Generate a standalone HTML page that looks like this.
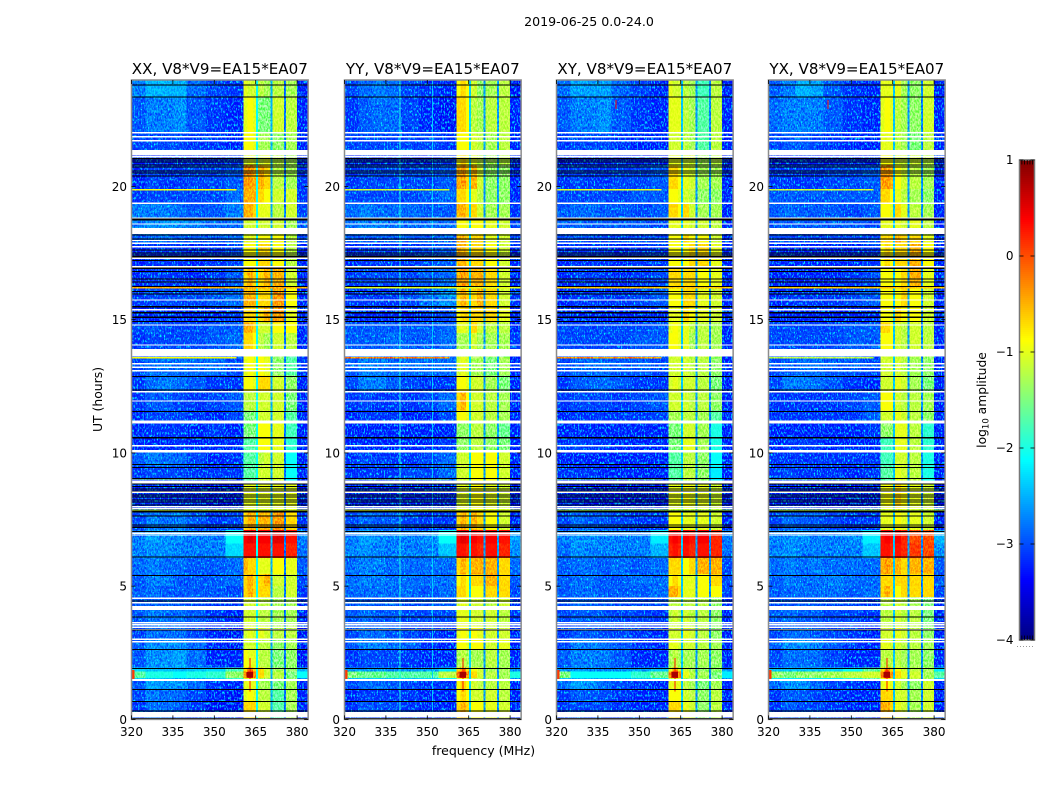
<!DOCTYPE html>
<html lang="en">
<head>
<meta charset="utf-8">
<title>2019-06-25 0.0-24.0 amplitude spectrograms</title>
<style>
html,body{margin:0;padding:0;background:#fff;}
svg{display:block;font-family:"DejaVu Sans","Liberation Sans",sans-serif;fill:#000;}
</style>
</head>
<body>
<svg id="figure" xmlns="http://www.w3.org/2000/svg" width="1050" height="800" viewBox="0 0 1050 800">
<defs>
<!-- Visual grain only: the values come from the arrays in the script below. -->
<filter id="speckle" x="0" y="0" width="100%" height="100%" color-interpolation-filters="sRGB">
<feTurbulence type="fractalNoise" baseFrequency="0.7 0.37" numOctaves="2" seed="7"/>
<feColorMatrix type="matrix" values="3 0 0 0 -1 3 0 0 0 -1 3 0 0 0 -1 0 0 0 0 1"/>
</filter>
<filter id="sparkle" x="0" y="0" width="100%" height="100%" color-interpolation-filters="sRGB">
<feTurbulence type="fractalNoise" baseFrequency="0.7 0.37" numOctaves="2" seed="23"/>
<feColorMatrix type="matrix" values="0 0 0 0 0 3 0 0 0 -1.4 0 0 0 0 0 0 0 0 0 1"/>
</filter>
</defs>
<rect x="0" y="0" width="1050" height="800" fill="#fff"/>
</svg>
<script>
const panelTitles = ["XX, V8*V9=EA15*EA07","YY, V8*V9=EA15*EA07","XY, V8*V9=EA15*EA07","YX, V8*V9=EA15*EA07"];
const panelKeys = ["xx","yy","xy","yx"];
const xTicks = [320,335,350,365,380];
const yTicks = [0,5,10,15,20];
const colorTicks = [1,0,-1,-2,-3,-4];
const colorTickLabels = ["1","0","\u22121","\u22122","\u22123","\u22124"];
const colorMinorFractions = [0.1,0.2,0.3,0.4,0.5];

// MHz
const freqEdges = [320,325,330,335,340,347,354,360.5,362,364,365.2];
const upperFreqStart = [365.7,368,371,375.8,380];
const upperFreqEnd = [368,370.4,375.2,380,384];
const gapStart = [365.1,370.3,375.2];
const gapEnd = [365.9,371.1,376];
// UT hours, top to bottom
const timeEdges = [24,23.35,22,21.2,20.8,19.9,19.4,18.8,18.2,17.9,16.95,16.2,15.5,14.9,14.5,13.9,13.6,12.9,12.3,11.6,11.2,10.6,10.05,9.5,8.9,7.8,7.1,6.6,6.05,5.45,5,4.6,4.2,3.5,3,2.6,1.95,1.8,1.55,1.44,1.13,0.7,0];

// log10 amplitude in tenths
const levelsXX = [
[-28,-25,-25,-25,-29,-31,-32,-10,-11,-11,-12,-13,-12,-13,-33],
[-30,-28,-28,-27,-30,-32,-33,-10,-9,-10,-15,-15,-11,-12,-33],
[-31,-31,-31,-31,-32,-32,-33,-9,-9,-10,-13,-13,-14,-13,-33],
[-33,-33,-33,-33,-33,-33,-32,-11,-10,-11,-11,-10,-12,-13,-33],
[-33,-31,-32,-32,-31,-31,-30,-4,-4,-5,-5,-7,-12,-13,-32],
[-32,-31,-31,-31,-31,-31,-29,-5,-5,-5,-7,-9,-11,-11,-32],
[-28,-28,-28,-29,-30,-30,-28,-5,-5,-7,-10,-10,-12,-11,-31],
[-28,-27,-27,-27,-28,-29,-29,-11,-11,-11,-11,-11,-11,-13,-30],
[-30,-29,-29,-30,-30,-30,-29,-10,-10,-10,-9,-9,-9,-12,-31],
[-33,-32,-32,-32,-33,-32,-31,-9,-9,-9,-7,-7,-9,-12,-33],
[-33,-32,-32,-32,-33,-32,-30,-7,-5,-7,-7,-5,-5,-11,-33],
[-32,-31,-31,-31,-31,-30,-29,-5,-5,-5,-7,-7,-4,-9,-33],
[-33,-33,-33,-33,-33,-33,-32,-7,-7,-7,-7,-5,-4,-10,-33],
[-31,-30,-31,-31,-31,-30,-30,-5,-5,-7,-11,-11,-9,-9,-33],
[-32,-31,-31,-31,-31,-30,-29,-7,-7,-9,-12,-13,-11,-12,-33],
[-31,-29,-29,-29,-29,-29,-31,-10,-9,-10,-9,-10,-14,-17,-32],
[-31,-29,-29,-29,-29,-29,-31,-10,-9,-10,-9,-10,-14,-17,-32],
[-32,-29,-28,-29,-30,-32,-32,-9,-9,-10,-7,-7,-11,-14,-33],
[-32,-30,-30,-31,-32,-31,-30,-12,-12,-12,-11,-11,-11,-15,-33],
[-33,-31,-31,-31,-32,-33,-31,-15,-15,-15,-11,-11,-11,-17,-33],
[-33,-32,-32,-32,-33,-32,-33,-15,-15,-15,-9,-9,-10,-18,-33],
[-33,-33,-33,-32,-33,-33,-33,-17,-17,-17,-9,-9,-10,-19,-33],
[-30,-28,-29,-29,-31,-33,-32,-17,-17,-17,-12,-11,-11,-21,-33],
[-32,-31,-31,-31,-32,-32,-32,-17,-17,-17,-11,-11,-11,-21,-33],
[-33,-32,-33,-33,-33,-34,-34,-10,-10,-10,-10,-10,-10,-10,-34],
[-31,-28,-29,-28,-30,-32,-31,-7,-5,-5,-5,-5,-4,-7,-32],
[-28,-26,-27,-27,-28,-28,-21,4,5,4,4,4,5,3,-28],
[-28,-27,-27,-28,-28,-28,-23,3,3,3,3,3,3,2,-29],
[-29,-28,-29,-29,-30,-30,-29,-5,-7,-7,-10,-10,-9,-10,-30],
[-30,-28,-28,-30,-30,-30,-29,-7,-5,-7,-7,-5,-11,-11,-31],
[-30,-29,-30,-30,-30,-30,-31,-7,-5,-7,-7,-7,-12,-11,-32],
[-30,-30,-30,-30,-31,-32,-32,-11,-11,-11,-12,-12,-13,-13,-33],
[-30,-28,-29,-29,-30,-32,-33,-11,-11,-11,-12,-12,-13,-13,-33],
[-31,-29,-29,-29,-31,-33,-34,-11,-10,-11,-10,-11,-12,-12,-34],
[-30,-27,-27,-27,-29,-33,-34,-11,-11,-11,-12,-12,-14,-13,-34],
[-30,-27,-27,-26,-29,-33,-33,-9,-10,-10,-12,-12,-15,-14,-34],
[-23,-24,-24,-25,-24,-23,-18,-7,-2,-7,-7,-11,-13,-14,-25],
[-17,-20,-20,-21,-20,-19,-14,-3,3,-3,-7,-11,-12,-15,-21],
[-24,-24,-24,-25,-25,-24,-19,-10,-10,-10,-12,-13,-13,-14,-27],
[-30,-26,-27,-27,-29,-32,-33,-10,-10,-10,-13,-13,-15,-13,-33],
[-31,-28,-29,-29,-31,-33,-34,-10,-9,-10,-12,-12,-17,-13,-33],
[-32,-29,-29,-30,-32,-34,-34,-7,-7,-7,-11,-11,-17,-13,-33]];
const levelsYY = [
[-31,-29,-28,-29,-31,-32,-33,-9,-7,-9,-11,-14,-13,-12,-34],
[-32,-30,-29,-29,-31,-33,-34,-7,-7,-9,-12,-13,-12,-12,-33],
[-31,-31,-31,-31,-31,-31,-32,-9,-9,-9,-11,-12,-13,-12,-33],
[-33,-33,-33,-33,-33,-33,-32,-9,-7,-9,-10,-12,-13,-12,-33],
[-32,-31,-31,-31,-31,-31,-30,-5,-4,-7,-5,-11,-14,-14,-33],
[-31,-31,-31,-31,-31,-30,-29,-7,-7,-9,-10,-12,-14,-14,-33],
[-29,-28,-29,-29,-29,-30,-30,-5,-5,-7,-7,-11,-13,-13,-32],
[-29,-28,-28,-29,-29,-29,-29,-9,-9,-10,-9,-9,-10,-11,-31],
[-30,-30,-30,-30,-30,-30,-29,-5,-5,-7,-7,-7,-10,-11,-31],
[-33,-32,-32,-32,-32,-31,-30,-5,-5,-7,-7,-7,-9,-11,-33],
[-32,-31,-31,-31,-31,-30,-29,-5,-4,-5,-5,-5,-7,-11,-33],
[-32,-32,-32,-32,-31,-29,-27,-7,-5,-7,-7,-5,-7,-11,-32],
[-33,-33,-33,-33,-33,-32,-31,-9,-7,-7,-7,-7,-7,-10,-33],
[-30,-30,-30,-30,-30,-30,-29,-10,-10,-11,-7,-11,-12,-12,-33],
[-30,-30,-30,-29,-30,-30,-29,-13,-13,-13,-11,-13,-13,-13,-32],
[-30,-29,-29,-29,-29,-29,-31,-12,-12,-12,-13,-13,-13,-15,-32],
[-30,-28,-28,-29,-29,-29,-29,-11,-10,-11,-13,-13,-15,-13,-33],
[-31,-28,-28,-30,-31,-32,-32,-9,-9,-10,-11,-11,-13,-15,-33],
[-32,-31,-32,-32,-32,-31,-29,-7,-5,-9,-11,-11,-12,-13,-33],
[-33,-32,-32,-32,-33,-33,-31,-9,-9,-10,-11,-11,-12,-13,-33],
[-33,-33,-33,-33,-33,-33,-33,-14,-14,-14,-12,-12,-14,-16,-33],
[-33,-33,-33,-33,-33,-33,-32,-14,-14,-14,-12,-12,-14,-15,-33],
[-32,-31,-32,-32,-32,-31,-29,-11,-11,-11,-9,-9,-9,-11,-33],
[-32,-32,-32,-32,-31,-31,-29,-11,-11,-11,-9,-9,-9,-11,-33],
[-33,-33,-33,-33,-33,-33,-33,-11,-10,-11,-9,-9,-10,-11,-34],
[-31,-29,-30,-30,-31,-32,-32,-7,-5,-7,-5,-7,-9,-11,-33],
[-28,-26,-27,-28,-28,-27,-21,4,5,4,4,3,4,3,-26],
[-28,-27,-28,-28,-28,-28,-24,3,3,2,3,2,3,2,-27],
[-29,-28,-28,-29,-29,-29,-29,-7,-5,-7,-5,-5,-5,-7,-29],
[-29,-28,-28,-29,-29,-29,-29,-9,-7,-9,-7,-7,-5,-7,-30],
[-29,-29,-29,-29,-29,-30,-29,-7,-7,-9,-9,-9,-7,-7,-31],
[-30,-29,-30,-30,-31,-30,-30,-11,-10,-11,-11,-11,-12,-11,-33],
[-30,-29,-30,-30,-31,-31,-31,-10,-10,-10,-11,-11,-11,-12,-32],
[-31,-29,-29,-30,-31,-32,-33,-10,-9,-10,-9,-10,-11,-11,-33],
[-30,-28,-28,-29,-30,-32,-33,-9,-9,-10,-9,-9,-11,-10,-33],
[-32,-31,-31,-31,-32,-33,-33,-13,-12,-13,-13,-13,-12,-13,-33],
[-26,-26,-26,-27,-27,-26,-22,-7,-3,-7,-9,-11,-13,-13,-27],
[-15,-16,-16,-17,-17,-17,-12,-2,4,-3,-7,-11,-12,-13,-20],
[-24,-24,-24,-24,-24,-23,-21,-11,-9,-11,-12,-12,-13,-13,-27],
[-31,-29,-29,-30,-31,-32,-32,-9,-7,-9,-11,-12,-12,-12,-33],
[-33,-32,-32,-32,-32,-33,-33,-9,-7,-9,-11,-11,-11,-12,-33],
[-32,-30,-31,-31,-32,-33,-33,-7,-5,-7,-9,-9,-10,-11,-33]];
const levelsXY = [
[-29,-26,-26,-26,-29,-31,-33,-10,-11,-11,-12,-13,-18,-12,-33],
[-30,-28,-28,-27,-30,-32,-33,-10,-10,-10,-12,-13,-17,-12,-33],
[-32,-31,-31,-31,-32,-33,-33,-11,-11,-11,-12,-13,-17,-12,-33],
[-34,-33,-33,-33,-33,-33,-33,-10,-10,-10,-11,-11,-13,-12,-33],
[-32,-31,-32,-32,-31,-31,-30,-7,-7,-9,-10,-11,-13,-13,-33],
[-31,-31,-31,-31,-31,-30,-30,-9,-9,-10,-11,-12,-14,-14,-33],
[-30,-29,-29,-30,-30,-31,-30,-7,-7,-9,-7,-11,-13,-13,-33],
[-30,-29,-30,-30,-30,-30,-31,-10,-10,-10,-10,-11,-11,-12,-33],
[-31,-30,-31,-31,-31,-31,-31,-9,-9,-9,-7,-9,-9,-11,-33],
[-33,-32,-32,-32,-33,-32,-32,-9,-9,-9,-9,-7,-7,-10,-33],
[-33,-32,-32,-32,-33,-32,-31,-7,-7,-7,-7,-7,-9,-10,-33],
[-33,-32,-32,-32,-32,-31,-30,-9,-9,-9,-7,-7,-10,-11,-33],
[-33,-33,-33,-33,-33,-33,-33,-10,-10,-10,-7,-9,-10,-11,-33],
[-31,-31,-31,-31,-31,-31,-30,-10,-9,-10,-10,-12,-12,-13,-33],
[-31,-31,-31,-31,-31,-30,-30,-9,-9,-10,-10,-13,-12,-13,-33],
[-31,-30,-30,-30,-30,-30,-32,-11,-11,-11,-11,-12,-11,-13,-33],
[-31,-30,-29,-29,-30,-30,-31,-11,-11,-11,-11,-12,-12,-14,-33],
[-32,-30,-30,-29,-30,-32,-32,-11,-10,-11,-11,-11,-12,-15,-33],
[-32,-31,-31,-31,-32,-31,-30,-11,-11,-11,-11,-12,-12,-14,-33],
[-33,-32,-32,-32,-32,-32,-31,-13,-13,-13,-12,-12,-13,-17,-33],
[-33,-33,-33,-33,-33,-33,-33,-15,-15,-15,-11,-11,-13,-20,-33],
[-32,-31,-32,-32,-33,-33,-33,-15,-15,-15,-10,-10,-13,-20,-33],
[-33,-33,-33,-33,-33,-33,-33,-17,-17,-17,-12,-12,-14,-21,-33],
[-32,-32,-32,-33,-33,-33,-33,-17,-17,-17,-12,-12,-14,-22,-33],
[-33,-33,-34,-34,-34,-34,-34,-10,-10,-10,-9,-10,-10,-11,-34],
[-31,-29,-30,-30,-31,-32,-32,-9,-9,-9,-10,-10,-10,-11,-33],
[-28,-27,-27,-28,-28,-28,-22,3,4,3,4,3,4,2,-28],
[-29,-27,-28,-28,-28,-28,-25,2,3,2,3,2,3,2,-29],
[-30,-29,-29,-30,-29,-30,-29,-7,-7,-7,-9,-7,-5,-5,-31],
[-30,-29,-29,-30,-30,-29,-29,-9,-7,-9,-10,-10,-9,-7,-31],
[-30,-29,-29,-30,-30,-30,-29,-5,-5,-7,-10,-10,-9,-9,-31],
[-31,-29,-30,-30,-31,-31,-31,-12,-12,-12,-12,-12,-12,-14,-33],
[-31,-30,-30,-30,-31,-31,-32,-12,-11,-12,-11,-12,-12,-14,-33],
[-32,-30,-30,-31,-31,-32,-33,-11,-11,-11,-10,-11,-12,-14,-33],
[-31,-28,-28,-29,-30,-32,-33,-10,-10,-11,-11,-11,-12,-13,-33],
[-30,-28,-28,-28,-30,-33,-33,-13,-12,-13,-13,-13,-13,-14,-33],
[-27,-27,-27,-28,-27,-26,-24,-10,-4,-10,-11,-13,-14,-14,-27],
[-15,-21,-21,-21,-21,-19,-16,-3,5,-3,-10,-12,-13,-15,-22],
[-24,-25,-25,-25,-25,-24,-22,-12,-10,-12,-13,-13,-14,-15,-27],
[-29,-26,-27,-29,-31,-32,-33,-10,-10,-10,-12,-13,-15,-13,-33],
[-32,-30,-30,-31,-32,-33,-33,-9,-9,-9,-11,-12,-14,-12,-33],
[-32,-31,-31,-31,-32,-33,-33,-7,-7,-7,-10,-11,-14,-12,-33]];
const levelsYX = [
[-30,-28,-25,-26,-30,-32,-33,-10,-10,-10,-10,-13,-14,-11,-33],
[-29,-28,-28,-28,-30,-32,-33,-10,-9,-10,-12,-13,-14,-11,-33],
[-31,-30,-30,-31,-32,-33,-33,-10,-10,-10,-12,-13,-15,-12,-33],
[-34,-33,-33,-33,-33,-33,-33,-9,-9,-9,-11,-11,-11,-12,-33],
[-32,-32,-32,-32,-31,-31,-30,-4,-4,-5,-9,-11,-12,-13,-33],
[-30,-30,-30,-30,-30,-30,-30,-7,-7,-9,-10,-12,-13,-14,-33],
[-30,-29,-30,-30,-30,-31,-30,-9,-9,-10,-7,-10,-12,-13,-33],
[-30,-30,-30,-30,-30,-30,-31,-10,-10,-10,-10,-11,-10,-12,-33],
[-31,-31,-31,-31,-31,-31,-31,-7,-7,-7,-5,-7,-7,-10,-33],
[-33,-33,-33,-33,-33,-33,-32,-9,-7,-9,-7,-7,-5,-9,-33],
[-33,-33,-33,-33,-33,-32,-31,-9,-9,-9,-9,-7,-5,-10,-33],
[-33,-32,-32,-32,-32,-31,-30,-9,-9,-9,-9,-7,-9,-11,-33],
[-33,-33,-33,-33,-33,-33,-33,-9,-9,-10,-7,-9,-9,-11,-33],
[-31,-31,-31,-31,-31,-30,-30,-7,-7,-9,-11,-12,-11,-12,-33],
[-31,-31,-31,-31,-31,-30,-30,-9,-9,-9,-11,-12,-11,-12,-33],
[-30,-30,-30,-30,-29,-29,-31,-11,-11,-11,-12,-12,-12,-13,-33],
[-31,-30,-29,-29,-30,-30,-31,-11,-11,-11,-11,-12,-13,-14,-33],
[-31,-28,-28,-29,-30,-32,-33,-11,-11,-11,-10,-11,-13,-15,-33],
[-32,-32,-32,-32,-32,-31,-30,-9,-9,-9,-11,-12,-12,-13,-33],
[-32,-32,-32,-32,-32,-32,-30,-11,-11,-11,-10,-11,-12,-14,-33],
[-33,-33,-33,-33,-33,-33,-32,-14,-14,-14,-10,-10,-12,-19,-33],
[-33,-32,-32,-32,-33,-33,-33,-18,-18,-18,-10,-10,-12,-19,-33],
[-32,-32,-32,-32,-32,-32,-32,-18,-18,-18,-11,-11,-12,-20,-33],
[-32,-31,-32,-32,-32,-33,-32,-17,-17,-17,-10,-11,-12,-20,-33],
[-33,-33,-34,-34,-34,-34,-34,-10,-9,-10,-7,-9,-10,-11,-34],
[-31,-29,-30,-30,-31,-32,-32,-10,-10,-10,-9,-10,-10,-11,-33],
[-28,-27,-27,-28,-28,-27,-22,3,4,3,4,2,0,0,-25],
[-28,-27,-28,-28,-28,-28,-24,3,3,2,3,2,1,0,-27],
[-29,-28,-29,-28,-29,-29,-29,-5,-4,-5,-5,-7,-5,-5,-30],
[-30,-28,-29,-29,-28,-29,-29,-7,-7,-7,-7,-7,-7,-7,-30],
[-30,-29,-29,-29,-29,-30,-29,-7,-5,-7,-9,-7,-7,-7,-31],
[-31,-30,-30,-30,-31,-31,-32,-12,-12,-12,-11,-12,-13,-15,-33],
[-30,-29,-30,-30,-31,-31,-32,-12,-12,-12,-11,-12,-12,-15,-33],
[-31,-29,-29,-30,-31,-32,-33,-11,-11,-11,-10,-11,-12,-14,-33],
[-30,-27,-27,-28,-30,-32,-33,-10,-10,-11,-11,-12,-12,-13,-33],
[-31,-29,-29,-29,-31,-33,-33,-12,-12,-12,-12,-13,-13,-14,-33],
[-24,-24,-24,-24,-23,-21,-17,-7,-3,-7,-9,-11,-12,-13,-22],
[-14,-15,-14,-14,-13,-12,-11,-3,5,-3,-7,-10,-11,-13,-17],
[-22,-22,-22,-22,-22,-20,-17,-9,-7,-10,-11,-12,-12,-13,-23],
[-29,-27,-27,-29,-31,-32,-33,-10,-9,-10,-11,-13,-14,-11,-33],
[-32,-30,-30,-31,-32,-33,-33,-7,-7,-7,-11,-11,-13,-11,-33],
[-32,-30,-31,-31,-32,-33,-33,-5,-5,-7,-10,-11,-13,-11,-33]];
const panelLevels = [levelsXX,levelsYY,levelsXY,levelsYX];

// dividing channels between sub-bands, tenths
const gapLevels = [[-21,-25,-28],[-23,-26,-26],[-24,-26,-27],[-24,-26,-27]];

// narrow interference rows
const spikeTimes = [19.87,16.2,14.93,13.57,9.02,7.85];
const spikeEndFreqs = [358,384,358,358,358,384];
const spikeLevels = [[-9,-5,-10,-9,-12,-11],[-11,-10,-17,-2,-12,-10],[-10,-6,-15,-3,-14,-13],[-11,-6,-16,-12,-13,-12]];

// narrow interference channels on YY
const yyLineFreqs = [340,351.7];
const yyLineLevels = [-20,-24];

// localised bursts
const spotFreqStart = [362.75,361.6,320,341.3];
const spotFreqEnd = [363.2,364,321,341.8];
const spotTimeStart = [1.05,1.58,1.5,22.9];
const spotTimeEnd = [2.3,1.78,1.85,23.25];
const spotLevels = [3,8,1,3];
const spotFirstPanel = [0,0,0,2];

// flagged integrations, UT hours
const whiteThin = [22.01,21.86,21.71,21.11,19.37,18.81,18.59,17.97,17.87,17.74,17.31,16.99,15.74,15.37,14.8,14.05,13.34,13.21,13.08,12.3,11.95,10.27,8.52,7.99,7.92,6.99,6.92,4.55,4.38,3.63,3.55,3.46,3.36,3.01,2.92];
const whiteBlockStart = [21.37,18.43,13.89,11.21,10.11,8.96,4.26,1.51,0.28];
const whiteBlockEnd = [21.16,18.22,13.61,11.11,10.01,8.86,4.11,1.44,0.08];
const blackThin = [23.8,23.35,21.05,20.99,20.92,20.81,20.73,20.58,20.51,20.39,18.77,18.74,18.18,18.02,17.62,17.5,17.43,17.36,17.22,16.93,16.8,16.53,16.42,16.24,16.05,15.97,15.5,15.47,15.26,15.09,14.93,12.86,12.36,11.55,10.57,9.57,9.45,9.04,8.84,8.74,8.65,8.57,8.42,8.34,8.24,8.15,8.05,7.81,7.78,7.64,7.3,7.21,7.05,6.09,5.4,4.45,3.84,3.36,2.63,1.91,1.13,0.67,0.32,0.03,0];

const SVGNS = "http://www.w3.org/2000/svg";
const figure = document.getElementById("figure");
const panelLeft = [131.5,344.5,556.5,768.5];
const plotTop = 80;
const pxPerMHz = 2.76;
const pxPerHour = 26.65;
const plotBottom = 719.4;
const freqMax = 384;
const bandStart = 360.5;
const bandEnd = 380;

function xScale(panel, mhz){ return panelLeft[panel] + (mhz - 320) * pxPerMHz; }
function yScale(ut){ return plotBottom - ut * pxPerHour; }
function colorScaleY(v){ return 640 - (v + 4) * 96; }
function clip01(v){ return Math.max(0, Math.min(1, v)); }
function jet(level){
  const t = clip01((level + 4) / 5);
  const r = clip01(Math.min(4*t - 1.5, -4*t + 4.5));
  const g = clip01(Math.min(4*t - 0.5, -4*t + 3.5));
  const b = clip01(Math.min(4*t + 0.5, -4*t + 2.5));
  return "rgb(" + Math.round(r*255) + "," + Math.round(g*255) + "," + Math.round(b*255) + ")";
}
function addRect(parent, name, x0, y0, x1, y1, fill){
  const el = document.createElementNS(SVGNS, "rect");
  
  
  el.setAttribute("x", x0.toFixed(2));
  el.setAttribute("y", y0.toFixed(2));
  el.setAttribute("width", (x1 - x0).toFixed(2));
  el.setAttribute("height", (y1 - y0).toFixed(2));
  el.setAttribute("fill", fill);
  parent.appendChild(el);
  return el;
}
function addLine(parent, name, x1, y1, x2, y2, stroke, width){
  const el = document.createElementNS(SVGNS, "line");
  
  
  el.setAttribute("x1", x1);
  el.setAttribute("y1", y1);
  el.setAttribute("x2", x2);
  el.setAttribute("y2", y2);
  el.setAttribute("stroke", stroke);
  el.setAttribute("stroke-width", width);
  parent.appendChild(el);
  return el;
}
function addText(parent, name, str, x, y, size, anchor){
  const el = document.createElementNS(SVGNS, "text");
  
  
  el.setAttribute("x", x);
  el.setAttribute("y", y);
  el.setAttribute("font-size", size);
  el.setAttribute("text-anchor", anchor);
  el.setAttribute("fill", "#000");
  el.textContent = str;
  parent.appendChild(el);
  return el;
}
function addGroup(parent, name){
  const el = document.createElementNS(SVGNS, "g");
  
  
  parent.appendChild(el);
  return el;
}

addText(figure, "figure-title", "2019-06-25 0.0-24.0", 589, 26, 12.6, "middle");

panelTitles.forEach(function(title, p){
  const key = panelKeys[p];
  const axes = addGroup(figure, "panel-" + key);
  const heat = addGroup(axes, "heatmap-" + key);
  heat.setAttribute("shape-rendering", "crispEdges");
  const levels = panelLevels[p];
  const lowCols = freqEdges.length - 1;
  for (let row = 0; row < levels.length; row++){
    const yTop = yScale(timeEdges[row]);
    const yBot = yScale(timeEdges[row + 1]);
    for (let col = 0; col < levels[row].length; col++){
      const f0 = col < lowCols ? freqEdges[col] : upperFreqStart[col - lowCols];
      const f1 = col < lowCols ? freqEdges[col + 1] : upperFreqEnd[col - lowCols];
      addRect(heat, "heatmap-cell", xScale(p, f0), yTop, xScale(p, f1), yBot, jet(levels[row][col] / 10));
    }
  }
  for (let g = 0; g < gapStart.length; g++){
    addRect(heat, "band-gap", xScale(p, gapStart[g]), plotTop, xScale(p, gapEnd[g]), plotBottom, jet(gapLevels[p][g] / 10));
  }
  if (key === "yy"){
    for (let l = 0; l < yyLineFreqs.length; l++){
      addRect(heat, "interference-channel", xScale(p, yyLineFreqs[l]), plotTop, xScale(p, yyLineFreqs[l]) + 1, plotBottom, jet(yyLineLevels[l] / 10));
    }
  }
  for (let s = 0; s < spikeTimes.length; s++){
    addRect(heat, "interference-row", xScale(p, 320), yScale(spikeTimes[s] + 0.025), xScale(p, spikeEndFreqs[s]), yScale(spikeTimes[s] - 0.025), jet(spikeLevels[p][s] / 10));
  }
  const grain = addRect(axes, "channel-grain", xScale(p, 320), plotTop, xScale(p, freqMax), plotBottom, "#808080");
  grain.setAttribute("filter", "url(#speckle)");
  grain.setAttribute("style", "mix-blend-mode:overlay;opacity:.5");
  const sparkleLow = addRect(axes, "channel-sparkle-low", xScale(p, 320), plotTop, xScale(p, bandStart), plotBottom, "#000");
  sparkleLow.setAttribute("filter", "url(#sparkle)");
  sparkleLow.setAttribute("style", "mix-blend-mode:lighten");
  const sparkleHigh = addRect(axes, "channel-sparkle-high", xScale(p, bandEnd), plotTop, xScale(p, freqMax), plotBottom, "#000");
  sparkleHigh.setAttribute("filter", "url(#sparkle)");
  sparkleHigh.setAttribute("style", "mix-blend-mode:lighten");

  const spots = addGroup(axes, "bursts-" + key);
  spots.setAttribute("shape-rendering", "crispEdges");
  for (let b = 0; b < spotLevels.length; b++){
    if (p >= spotFirstPanel[b]){
      addRect(spots, "burst-spot", xScale(p, spotFreqStart[b]), yScale(spotTimeEnd[b]), xScale(p, spotFreqEnd[b]), yScale(spotTimeStart[b]), jet(spotLevels[b] / 10));
    }
  }

  const flags = addGroup(axes, "flags-" + key);
  flags.setAttribute("shape-rendering", "crispEdges");
  whiteThin.forEach(function(ut){
    addRect(flags, "flag-white", xScale(p, 320), yScale(ut + 0.025), xScale(p, freqMax), yScale(ut - 0.025), "#fff");
  });
  whiteBlockStart.forEach(function(ut, i){
    addRect(flags, "flag-white-block", xScale(p, 320), yScale(ut), xScale(p, freqMax), yScale(whiteBlockEnd[i]), "#fff");
  });
  blackThin.forEach(function(ut){
    addRect(flags, "flag-black", xScale(p, 320), yScale(ut + 0.02), xScale(p, freqMax), yScale(ut - 0.02), "#000");
  });

  const frame = addRect(axes, "axes-frame", xScale(p, 320), plotTop, xScale(p, freqMax), plotBottom, "none");
  frame.setAttribute("stroke", "#8c8c8c");
  frame.setAttribute("stroke-width", "1.5");

  xTicks.forEach(function(t){
    const x = xScale(p, t);
    addLine(axes, "x-tick", x, plotBottom, x, plotBottom - 4, "#000", 0.8);
    addLine(axes, "x-tick-top", x, plotTop, x, plotTop + 4, "#000", 0.8);
    addText(axes, "x-tick-label", String(t), x, 736, 12, "middle");
  });
  yTicks.forEach(function(t){
    const y = yScale(t);
    addLine(axes, "y-tick", xScale(p, 320), y, xScale(p, 320) + 4, y, "#000", 0.8);
    addLine(axes, "y-tick-right", xScale(p, freqMax), y, xScale(p, freqMax) - 4, y, "#000", 0.8);
    addText(axes, "y-tick-label", String(t), xScale(p, 320) - 4.5, y + 4.5, 12, "end");
  });
  addText(axes, "panel-title-" + key, title, xScale(p, 352), 74, 15.1, "middle");
});

addText(figure, "x-axis-title", "frequency (MHz)", 483.5, 755, 12.5, "middle");
const yTitle = addText(figure, "y-axis-title", "UT (hours)", 0, 0, 12.4, "middle");
yTitle.setAttribute("transform", "translate(102,399.5) rotate(-90)");

// colorbar
const cbar = addGroup(figure, "colorbar");
const cbarFill = addGroup(cbar, "colorbar-gradient");
cbarFill.setAttribute("shape-rendering", "crispEdges");
for (let i = 0; i < 240; i++){
  const vLow = -4 + i * 5 / 240;
  const vHigh = -4 + (i + 1) * 5 / 240;
  addRect(cbarFill, "colorbar-step", 1019.5, colorScaleY(vHigh), 1034.5, colorScaleY(vLow), jet((vLow + vHigh) / 2));
}
const cbarFrame = addRect(cbar, "colorbar-frame", 1019.5, 160, 1034.5, 640, "none");
cbarFrame.setAttribute("stroke", "#777");
cbarFrame.setAttribute("stroke-width", "1.5");
colorTicks.forEach(function(v, i){
  const y = colorScaleY(v);
  addLine(cbar, "colorbar-tick", 1019.5, y, 1023.5, y, "#000", 0.8);
  addLine(cbar, "colorbar-tick-right", 1034.5, y, 1030.5, y, "#000", 0.8);
  addText(cbar, "colorbar-tick-label", colorTickLabels[i], 1013.5, y + 4, 12, "end");
});
colorMinorFractions.forEach(function(f){
  const x = 1019.5 + 15 * (f * 2 - 0.1) * 0.9 + 1;
  addLine(cbar, "colorbar-minor-tick-top", x, 160, x, 164.5, "#000", 0.8);
  addLine(cbar, "colorbar-minor-tick-bottom", x, 640, x, 635.5, "#000", 0.8);
});
const cbarDots = addLine(cbar, "colorbar-clipped-ticks", 1017, 646.5, 1035, 646.5, "#999", 1);
cbarDots.setAttribute("stroke-dasharray", "1 2");

const cbarTitle = addText(cbar, "colorbar-label", "log", 0, 0, 12.3, "middle");
const sub = document.createElementNS(SVGNS, "tspan");


sub.setAttribute("font-size", "8.5");
sub.setAttribute("dy", "2.5");
sub.textContent = "10";
cbarTitle.appendChild(sub);
const rest = document.createElementNS(SVGNS, "tspan");


rest.setAttribute("dy", "-2.5");
rest.textContent = " amplitude";
cbarTitle.appendChild(rest);
cbarTitle.setAttribute("transform", "translate(986,400) rotate(-90)");
</script>
</body>
</html>
